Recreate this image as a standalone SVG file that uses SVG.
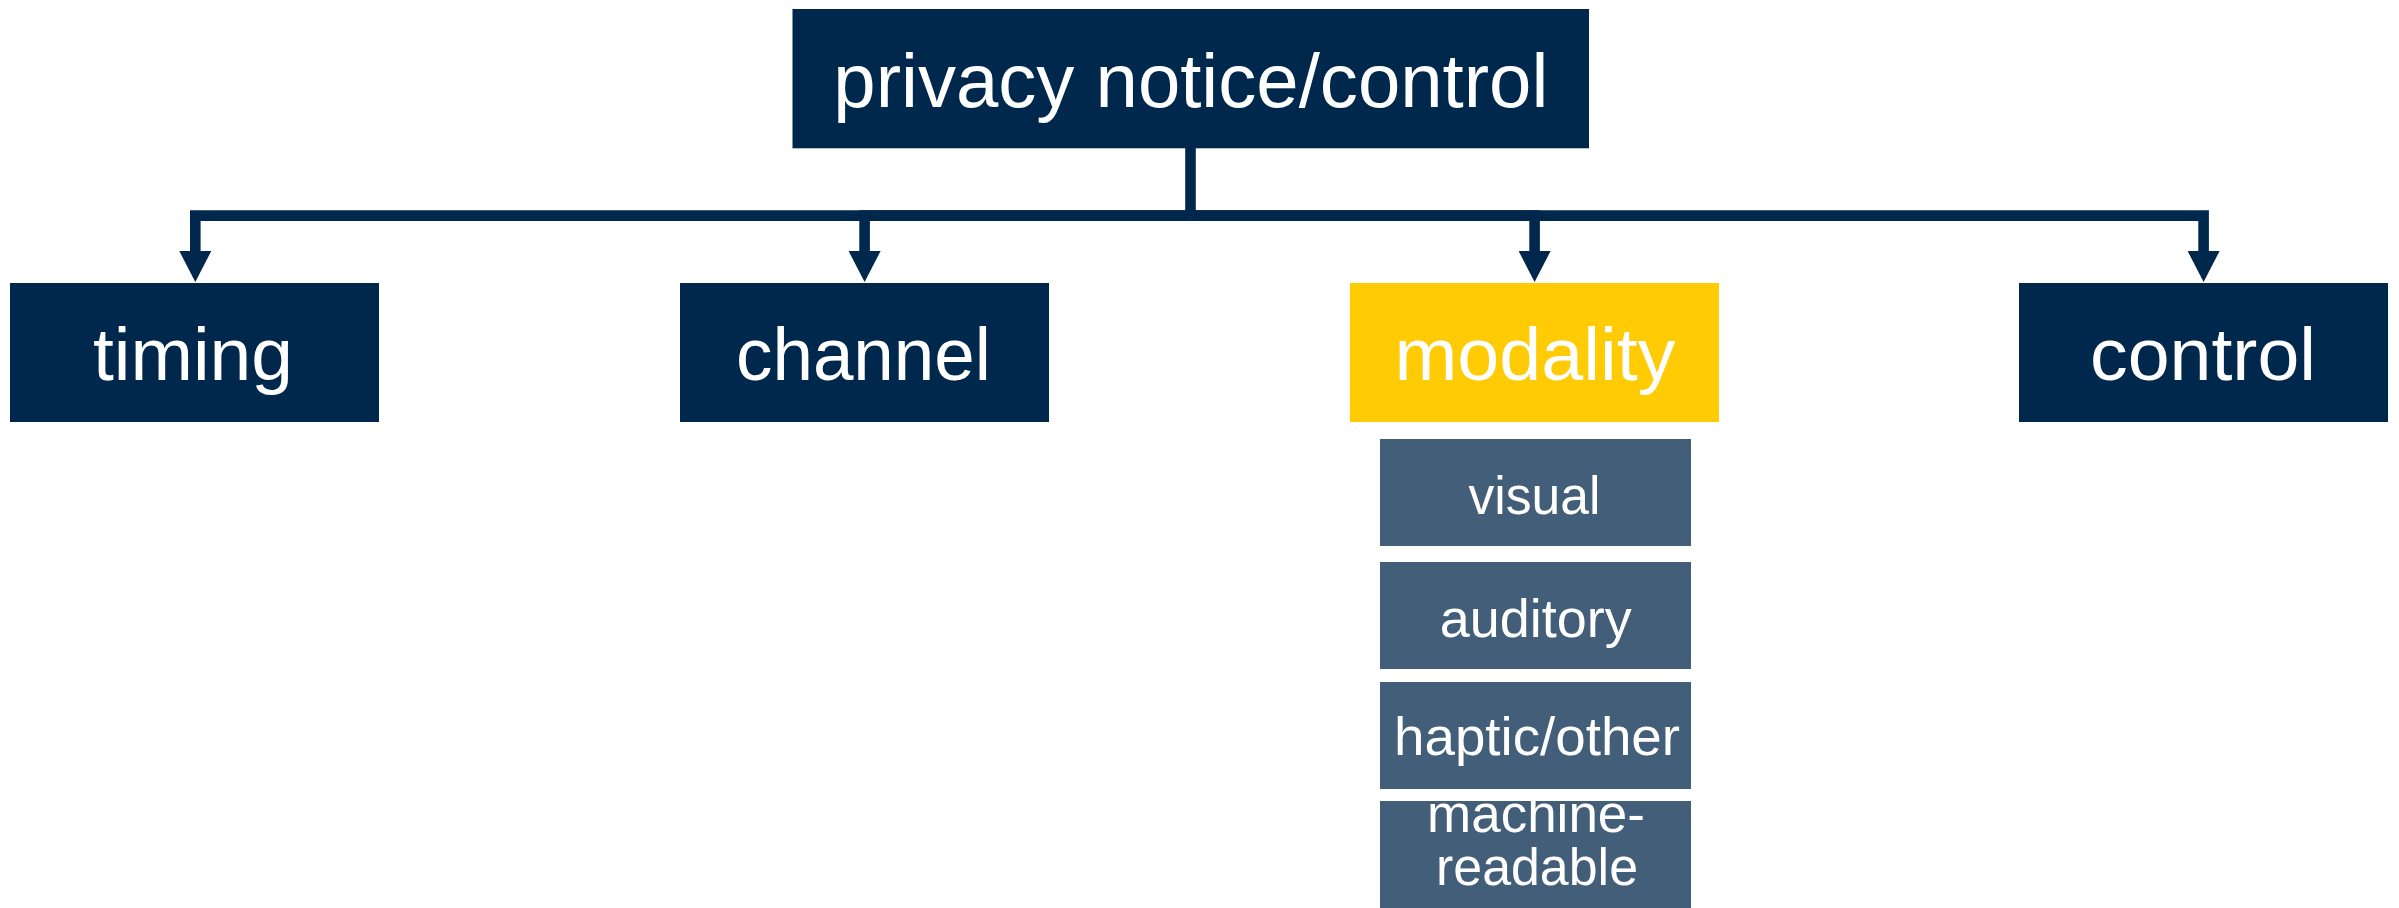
<svg xmlns="http://www.w3.org/2000/svg" width="2399" height="908" viewBox="0 0 2399 908">
<style>
.navy{fill:#00274C}
.maize{fill:#FFCB05}
.sub{fill:#425E79}
text{font-family:"Liberation Sans",Arial,sans-serif;fill:#FFFFFF;text-anchor:middle}
.t1{font-size:76px}
.t2{font-size:75px}
.t3{font-size:54px}
.t4{font-size:51px}
.conn{fill:none;stroke:#00274C;stroke-width:10.6;stroke-linejoin:miter}
</style>
<defs>
<marker id="arrow" markerUnits="userSpaceOnUse" viewBox="0 0 31 32" refX="0" refY="16" markerWidth="31" markerHeight="32" orient="auto">
<path d="M0,0 L31,16 L0,32 z" fill="#00274C"/>
</marker>
</defs>
<rect width="2399" height="908" fill="#FFFFFF"/>
<g id="connectors">
<path id="c-stem" class="conn" d="M1190.5,148 V216"/>
<path id="c-timing" class="conn" d="M1190.5,215.6 H195.3 V251" marker-end="url(#arrow)"/>
<path id="c-channel" class="conn" d="M1190.5,215.6 H864.6 V251" marker-end="url(#arrow)"/>
<path id="c-modality" class="conn" d="M1190.5,215.6 H1534.6 V251" marker-end="url(#arrow)"/>
<path id="c-control" class="conn" d="M1190.5,215.6 H2203.6 V251" marker-end="url(#arrow)"/>
</g>
<g id="node-root">
<rect class="navy" x="792.5" y="9" width="796.5" height="139.3"/>
<text class="t1" x="1190.8" y="106.7" textLength="715" lengthAdjust="spacingAndGlyphs">privacy notice/control</text>
</g>
<g id="node-timing">
<rect class="navy" x="10" y="283" width="369" height="139"/>
<text class="t2" x="193" y="380" textLength="200" lengthAdjust="spacingAndGlyphs">timing</text>
</g>
<g id="node-channel">
<rect class="navy" x="680" y="283" width="369" height="139"/>
<text class="t2" x="863.5" y="380" textLength="255" lengthAdjust="spacingAndGlyphs">channel</text>
</g>
<g id="node-modality">
<rect class="maize" x="1350" y="283" width="369" height="139"/>
<text class="t2" x="1535" y="380" textLength="281" lengthAdjust="spacingAndGlyphs">modality</text>
</g>
<g id="node-control">
<rect class="navy" x="2019" y="283" width="369" height="139"/>
<text class="t2" x="2203" y="380" textLength="226" lengthAdjust="spacingAndGlyphs">control</text>
</g>
<g id="node-visual">
<rect class="sub" x="1380" y="439" width="311" height="107"/>
<text class="t3" x="1534.4" y="514.3" textLength="132" lengthAdjust="spacingAndGlyphs">visual</text>
</g>
<g id="node-auditory">
<rect class="sub" x="1380" y="562" width="311" height="107"/>
<text class="t3" x="1535.8" y="636.7" textLength="192" lengthAdjust="spacingAndGlyphs">auditory</text>
</g>
<g id="node-haptic">
<rect class="sub" x="1380" y="682" width="311" height="107"/>
<text class="t3" x="1537" y="755" textLength="286" lengthAdjust="spacingAndGlyphs">haptic/other</text>
</g>
<g id="node-machine">
<rect class="sub" x="1380" y="801" width="311" height="107"/>
<text class="t4" x="1536" y="831.7" textLength="218" lengthAdjust="spacingAndGlyphs">machine-</text>
<text class="t4" x="1537" y="885" textLength="202" lengthAdjust="spacingAndGlyphs">readable</text>
</g>
</svg>
